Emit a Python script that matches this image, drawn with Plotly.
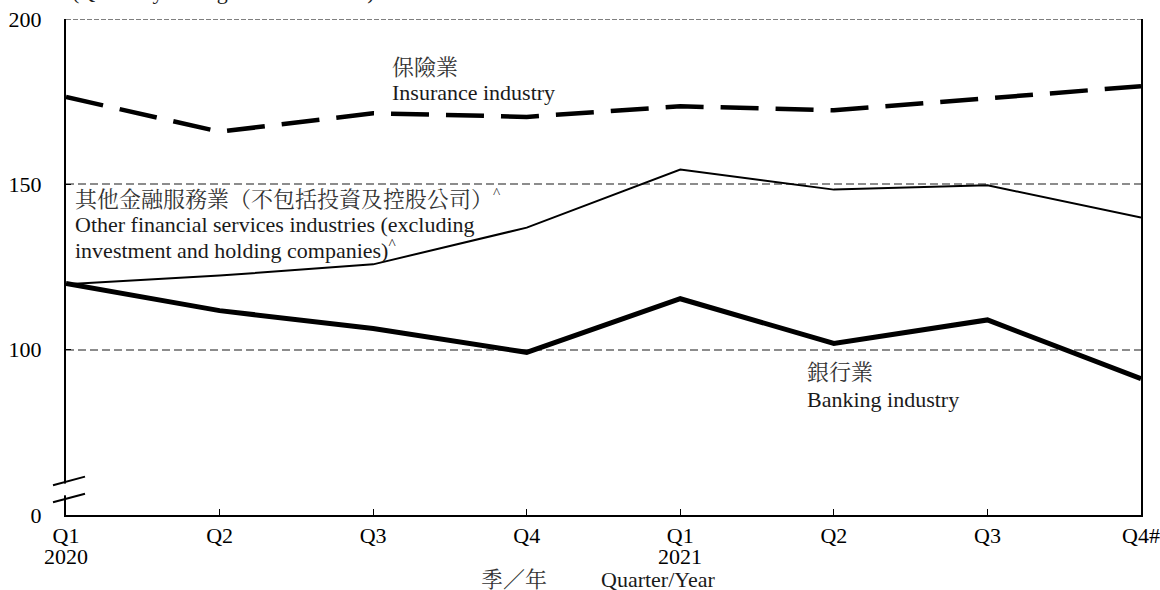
import plotly.graph_objects as go

# Quarterly business receipts indices by industry
quarters = ["2020 Q1", "2020 Q2", "2020 Q3", "2020 Q4",
            "2021 Q1", "2021 Q2", "2021 Q3", "2021 Q4#"]
x_tick_labels = ["Q1", "Q2", "Q3", "Q4", "Q1", "Q2", "Q3", "Q4#"]
year_labels = {0: "2020", 4: "2021"}

insurance = [176.4, 165.9, 171.5, 170.4, 173.6, 172.4, 176.0, 179.7]
other_financial = [119.8, 122.4, 125.8, 136.9, 154.5, 148.4, 149.7, 140.0]
banking = [120.0, 111.8, 106.4, 99.2, 115.4, 101.9, 109.0, 91.2]

# Broken value axis: the lowest tick stands for zero
y_ticks = [50, 100, 150, 200]
y_tick_labels = ["0", "100", "150", "200"]

FONT = "Liberation Serif, 'Noto Serif CJK TC', 'Noto Sans CJK TC', serif"
FS = 22
W, H = 1160, 590
L, R, T, B = 66, 19, 19, 75
PW, PH = W - L - R, H - T - B


def px(xp):
    return (xp - L) / PW


def py(yp):
    return (H - B - yp) / PH


x = list(range(len(quarters)))

fig = go.Figure()
fig.add_trace(go.Scatter(x=x, y=insurance, mode="lines", name="Insurance industry",
                         line=dict(color="black", width=4.5, dash="38px,17px")))
fig.add_trace(go.Scatter(x=x, y=other_financial, mode="lines", name="Other financial services",
                         line=dict(color="black", width=2)))
fig.add_trace(go.Scatter(x=x, y=banking, mode="lines", name="Banking industry",
                         line=dict(color="black", width=5)))

text_color = "#1a1a1a"
ann = []


def label(text, xp, yp, anchor="left", size=FS, color=text_color):
    ann.append(dict(text=text, x=px(xp), y=py(yp), xref="paper", yref="paper",
                    xanchor=anchor, yanchor="middle", showarrow=False,
                    font=dict(family=FONT, size=size, color=color)))


label("保險業", 390, 67, color="#333333")
label("Insurance industry", 390, 92)
label("其他金融服務業（不包括投資及控股公司）<sup>^</sup>", 73, 198, color="#333333")
label("Other financial services industries (excluding", 73, 224)
label("investment and holding companies)<sup>^</sup>", 73, 249)
label("銀行業", 805, 373, color="#333333")
label("Banking industry", 805, 399)
label("季／年", 514, 579, anchor="center", color="#333333")
label("Quarter/Year", 658, 579, anchor="center")
# Unit line sits above the plot area
ann.append(dict(text="(Quarterly average of 2015 = 100)", x=px(70), y=py(6),
                xref="paper", yref="paper", xanchor="left", yanchor="bottom",
                showarrow=False, font=dict(family=FONT, size=FS, color=text_color)))
# Year under the first quarter of each year
for i, yr in year_labels.items():
    ann.append(dict(text=yr, x=x[i], y=py(556), xref="x", yref="paper",
                    xanchor="center", yanchor="middle", showarrow=False,
                    font=dict(family=FONT, size=FS, color="black")))

# Axis break marks on the value axis
y_hi, y_lo = 200 - (480 - T) / 3.3, 200 - (497 - T) / 3.3
shapes = [
    dict(type="line", xref="paper", yref="y", x0=0, x1=1, y0=200, y1=200,
         line=dict(color="#555555", width=1.5, dash="5px,2px"), layer="above"),
    dict(type="line", xref="paper", yref="y", x0=0, x1=0, y0=y_lo + 0.8, y1=y_hi - 0.8,
         line=dict(color="white", width=4), layer="above"),
    dict(type="line", xref="paper", yref="y", x0=px(53), x1=px(85),
         y0=y_hi - 1.3, y1=y_hi + 1.3, line=dict(color="black", width=2), layer="above"),
    dict(type="line", xref="paper", yref="y", x0=px(53), x1=px(85),
         y0=y_lo - 1.3, y1=y_lo + 1.3, line=dict(color="black", width=2), layer="above"),
]

fig.update_layout(
    width=W, height=H,
    margin=dict(l=L, r=R, t=T, b=B, autoexpand=False),
    paper_bgcolor="white", plot_bgcolor="white",
    showlegend=False,
    font=dict(family=FONT, size=FS, color="black"),
    annotations=ann,
    shapes=shapes,
)
fig.update_xaxes(
    range=[0, len(quarters) - 1], tickvals=x, ticktext=x_tick_labels,
    showline=True, linecolor="black", linewidth=2,
    ticks="inside", ticklen=6, tickwidth=1, tickcolor="black",
    showgrid=False, zeroline=False, automargin=False, ticklabelstandoff=0,
    tickfont=dict(family=FONT, size=FS, color="black"),
)
fig.update_yaxes(
    range=[50, 200], tickvals=y_ticks, ticktext=y_tick_labels,
    showline=True, mirror=True, linecolor="black", linewidth=2,
    ticks="inside", ticklen=5, tickwidth=1, tickcolor="black",
    showgrid=True, gridcolor="#8c8c8c", gridwidth=2, griddash="8px,4px",
    zeroline=False, automargin=False, ticklabelstandoff=18,
    tickfont=dict(family=FONT, size=FS, color="black"),
)

fig.write_html("out.html")
